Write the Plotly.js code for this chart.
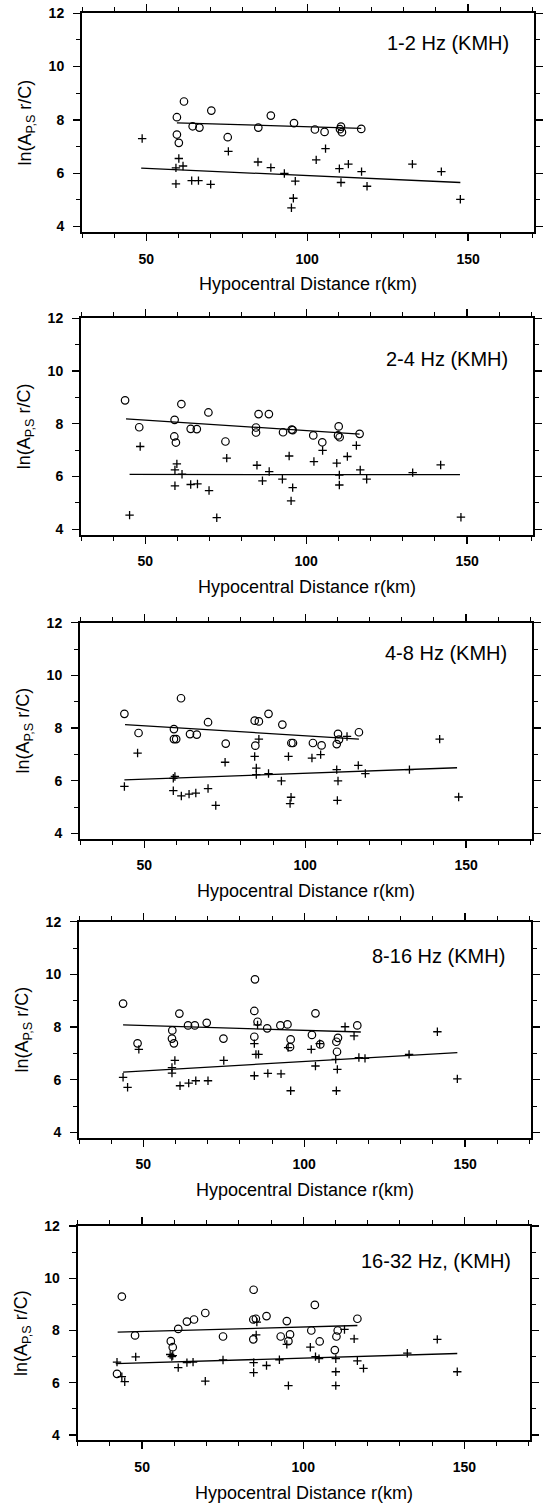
<!DOCTYPE html>
<html>
<head>
<meta charset="utf-8">
<script src="https://cdn.plot.ly/plotly-3.0.1.min.js"></script>
<style>
  html, body { margin: 0; padding: 0; background: #fff; }
  #chart { width: 550px; height: 1509px; }
</style>
</head>
<body>
<div id="chart"></div>
<script>
// ---------------- DATA ----------------
const panelLabels = ['1-2 Hz (KMH)', '2-4 Hz (KMH)', '4-8 Hz (KMH)', '8-16 Hz (KMH)', '16-32 Hz, (KMH)'];
const xTickVals = [50, 100, 150];
const xTickText = ['50', '100', '150'];
const xMinorVals = [30, 40, 60, 70, 80, 90, 110, 120, 130, 140, 160, 170];
const yTickVals = [4, 6, 8, 10, 12];
const yTickText = ['4', '6', '8', '10', '12'];
const yMinorVals = [5, 7, 9, 11];

// Panel 1: 1-2 Hz
const p1CircR = [59.5, 61.7, 59.5, 60.1, 64.4, 66.5, 70.2, 75.3, 84.8, 88.7, 95.9, 102.4, 105.4, 110.5, 110.2, 110.8, 116.8];
const p1CircY = [8.10, 8.69, 7.45, 7.14, 7.76, 7.71, 8.35, 7.35, 7.71, 8.16, 7.88, 7.64, 7.55, 7.75, 7.65, 7.54, 7.66];
const p1PlusR = [48.7, 59.2, 59.2, 60.1, 61.4, 64.1, 66.2, 70.0, 75.5, 84.7, 88.7, 92.9, 96.3, 95.7, 95.1, 102.8, 105.7, 110.0, 110.5, 112.8, 116.9, 118.6, 132.7, 141.7, 147.6];
const p1PlusY = [7.30, 5.60, 6.20, 6.55, 6.27, 5.72, 5.72, 5.58, 6.82, 6.42, 6.21, 5.99, 5.70, 5.06, 4.70, 6.50, 6.92, 6.17, 5.65, 6.34, 6.06, 5.51, 6.34, 6.06, 5.02];
const p1FitCircR = [59.5, 116.8];
const p1FitCircY = [7.89, 7.68];
const p1FitPlusR = [48.4, 147.6];
const p1FitPlusY = [6.19, 5.65];

// Panel 2: 2-4 Hz
const p2CircR = [43.7, 48.1, 61.2, 59.1, 59.0, 59.5, 64.1, 66.0, 69.6, 74.9, 84.4, 84.4, 85.2, 88.4, 92.8, 95.5, 95.8, 102.2, 105.0, 110.1, 109.9, 110.4, 116.6];
const p2CircY = [8.89, 7.87, 8.75, 8.15, 7.52, 7.29, 7.81, 7.80, 8.43, 7.33, 7.86, 7.67, 8.37, 8.37, 7.68, 7.78, 7.76, 7.56, 7.30, 7.90, 7.56, 7.49, 7.62];
const p2PlusR = [45.1, 48.4, 59.2, 59.8, 59.2, 61.4, 64.1, 66.2, 69.8, 72.2, 75.3, 84.7, 86.4, 88.5, 92.6, 94.7, 95.8, 95.3, 102.4, 105.1, 109.5, 110.3, 110.3, 112.8, 115.6, 116.8, 118.8, 133.1, 141.8, 148.1];
const p2PlusY = [4.54, 7.14, 6.25, 6.48, 5.65, 6.09, 5.70, 5.72, 5.47, 4.44, 6.70, 6.43, 5.84, 6.19, 5.90, 6.78, 5.58, 5.08, 6.57, 6.99, 6.51, 5.68, 6.06, 6.76, 7.18, 6.25, 5.90, 6.15, 6.44, 4.46];
const p2FitCircR = [44.0, 116.6];
const p2FitCircY = [8.19, 7.61];
const p2FitPlusR = [45.1, 147.8];
const p2FitPlusY = [6.08, 6.07];

// Panel 3: 4-8 Hz
const p3CircR = [43.8, 48.2, 61.4, 59.2, 59.2, 59.9, 64.2, 66.3, 69.8, 75.3, 84.3, 85.6, 84.5, 88.6, 92.9, 95.7, 96.2, 102.4, 105.1, 110.2, 109.8, 110.5, 116.7];
const p3CircY = [8.54, 7.81, 9.13, 7.96, 7.58, 7.58, 7.77, 7.75, 8.22, 7.41, 8.28, 8.25, 7.33, 8.54, 8.13, 7.43, 7.43, 7.43, 7.34, 7.78, 7.39, 7.56, 7.84];
const p3PlusR = [43.8, 47.9, 59.0, 59.5, 59.0, 61.5, 63.9, 66.0, 69.8, 72.2, 75.1, 84.3, 84.8, 84.8, 85.6, 88.6, 92.6, 94.8, 95.6, 95.3, 102.1, 104.8, 109.8, 110.2, 110.0, 113.0, 116.5, 118.7, 132.4, 141.8, 147.7];
const p3PlusY = [5.78, 7.05, 6.09, 6.16, 5.62, 5.42, 5.49, 5.53, 5.70, 5.06, 6.70, 6.92, 6.48, 6.23, 7.58, 6.27, 5.99, 6.92, 5.37, 5.13, 6.86, 6.99, 6.42, 5.99, 5.25, 7.68, 6.58, 6.27, 6.42, 7.58, 5.38];
const p3FitCircR = [44.0, 116.7];
const p3FitCircY = [8.13, 7.58];
const p3FitPlusR = [43.8, 147.2];
const p3FitPlusY = [6.03, 6.49];

// Panel 4: 8-16 Hz
const p4CircR = [43.7, 48.2, 61.2, 59.0, 58.9, 59.5, 63.9, 66.0, 69.7, 74.9, 84.5, 84.7, 85.5, 84.5, 88.5, 92.6, 94.8, 95.8, 95.6, 102.4, 103.5, 105.0, 110.0, 110.5, 110.2, 116.5];
const p4CircY = [8.89, 7.38, 8.51, 7.87, 7.56, 7.38, 8.06, 8.06, 8.16, 7.56, 8.61, 9.81, 8.20, 7.63, 7.95, 8.06, 8.10, 7.53, 7.24, 7.70, 8.52, 7.34, 7.44, 7.59, 7.06, 8.06];
const p4PlusR = [43.7, 45.1, 48.6, 58.9, 58.9, 59.8, 61.4, 64.1, 66.3, 70.1, 75.0, 84.5, 84.5, 85.0, 85.8, 85.5, 88.7, 92.8, 95.0, 95.8, 102.2, 103.5, 104.8, 109.8, 110.3, 110.0, 112.7, 115.5, 117.0, 118.9, 132.6, 141.4, 147.6];
const p4PlusY = [6.09, 5.71, 7.15, 6.46, 6.25, 6.73, 5.77, 5.87, 5.96, 5.96, 6.73, 6.15, 7.37, 6.96, 6.96, 8.08, 6.24, 6.22, 7.22, 5.58, 7.15, 6.52, 7.37, 6.77, 6.39, 5.58, 8.01, 7.66, 6.84, 6.81, 6.96, 7.82, 6.03];
const p4FitCircR = [43.7, 117.6];
const p4FitCircY = [8.08, 7.81];
const p4FitPlusR = [43.7, 147.6];
const p4FitPlusY = [6.29, 7.03];

// Panel 5: 16-32 Hz
const p5CircR = [43.7, 42.2, 47.8, 61.2, 58.9, 59.5, 63.9, 66.1, 69.6, 75.1, 84.6, 84.5, 85.3, 84.5, 88.6, 93.0, 94.9, 95.9, 95.4, 102.5, 103.6, 105.1, 110.3, 110.7, 109.8, 116.8];
const p5CircY = [9.30, 6.34, 7.81, 8.06, 7.59, 7.36, 8.34, 8.42, 8.67, 7.77, 9.56, 8.42, 8.45, 7.66, 8.55, 7.77, 8.36, 7.85, 7.59, 8.00, 8.98, 7.58, 7.77, 8.00, 7.25, 8.45];
const p5PlusR = [42.2, 43.7, 44.6, 48.0, 58.7, 59.2, 59.5, 61.2, 63.9, 65.8, 69.6, 75.1, 84.6, 84.6, 85.4, 85.6, 88.6, 92.6, 94.9, 95.4, 102.2, 103.8, 104.9, 110.1, 110.1, 110.1, 112.8, 115.8, 116.8, 118.7, 132.3, 141.6, 147.8];
const p5PlusY = [6.79, 6.23, 6.04, 6.99, 7.08, 7.00, 7.04, 6.58, 6.77, 6.79, 6.06, 6.87, 6.77, 6.39, 7.83, 8.32, 6.66, 6.88, 7.47, 5.89, 7.36, 7.00, 6.92, 6.92, 6.42, 5.89, 8.04, 7.68, 6.84, 6.55, 7.13, 7.66, 6.42];
const p5FitCircR = [42.4, 116.8];
const p5FitCircY = [7.94, 8.19];
const p5FitPlusR = [41.8, 147.8];
const p5FitPlusY = [6.73, 7.12];

// ---------------- LAYOUT HELPERS ----------------
const W = 550, H = 1509;
const FONT = '"Liberation Sans", Arial, Helvetica, sans-serif';
// pixel frame of each panel: [left, right, top(y=12), bottom(y=3.8)]
const frames = [
  [82, 534, 13.3, 231.8],
  [81, 533, 318.3, 534.6],
  [80, 532, 622.7, 838.6],
  [79, 531, 921.7, 1137.6],
  [77.7, 530.4, 1226, 1440.2]
];
const labelPos = [[163.5, 10.88], [163.3, 10.47], [163.3, 10.86], [163, 10.7], [165, 10.67]];

const sets = [
  [p1CircR, p1CircY, p1PlusR, p1PlusY, p1FitCircR, p1FitCircY, p1FitPlusR, p1FitPlusY],
  [p2CircR, p2CircY, p2PlusR, p2PlusY, p2FitCircR, p2FitCircY, p2FitPlusR, p2FitPlusY],
  [p3CircR, p3CircY, p3PlusR, p3PlusY, p3FitCircR, p3FitCircY, p3FitPlusR, p3FitPlusY],
  [p4CircR, p4CircY, p4PlusR, p4PlusY, p4FitCircR, p4FitCircY, p4FitPlusR, p4FitPlusY],
  [p5CircR, p5CircY, p5PlusR, p5PlusY, p5FitCircR, p5FitCircY, p5FitPlusR, p5FitPlusY]
];

const bold = a => a.map(t => '<b>' + t + '</b>');

const traces = [];
const layout = {
  width: W, height: H,
  margin: {l: 0, r: 0, t: 0, b: 0},
  paper_bgcolor: '#fff', plot_bgcolor: '#fff',
  showlegend: false,
  font: {family: FONT, color: '#000'},
  annotations: []
};

sets.forEach((s, i) => {
  const n = i === 0 ? '' : String(i + 1);
  const xa = 'x' + n, ya = 'y' + n;
  const [cr, cy, pr, py, fcr, fcy, fpr, fpy] = s;
  traces.push({x: cr, y: cy, xaxis: xa, yaxis: ya, type: 'scatter', mode: 'markers',
    marker: {symbol: 'circle-open', size: 7.5, color: '#000', line: {width: 1.2, color: '#000'}}, hoverinfo: 'x+y'});
  traces.push({x: pr, y: py, xaxis: xa, yaxis: ya, type: 'scatter', mode: 'markers',
    marker: {symbol: 'cross-thin-open', size: 6, color: '#000', line: {width: 1.3, color: '#000'}}, hoverinfo: 'x+y'});
  traces.push({x: fcr, y: fcy, xaxis: xa, yaxis: ya, type: 'scatter', mode: 'lines',
    line: {color: '#000', width: 1.3}, hoverinfo: 'skip'});
  traces.push({x: fpr, y: fpy, xaxis: xa, yaxis: ya, type: 'scatter', mode: 'lines',
    line: {color: '#000', width: 1.3}, hoverinfo: 'skip'});

  const f = frames[i];
  layout['xaxis' + n] = {
    domain: [f[0] / W, f[1] / W],
    anchor: ya,
    range: [30, 170.5],
    tickmode: 'array', tickvals: xTickVals, ticktext: bold(xTickText),
    ticks: 'outside', ticklen: 7, tickwidth: 1.3, tickcolor: '#000',
    minor: {tickmode: 'array', tickvals: xMinorVals, ticks: 'outside', ticklen: 4, tickwidth: 1, tickcolor: '#000', showgrid: false},
    showline: true, linewidth: 2, linecolor: '#000', mirror: 'allticks',
    showgrid: false, zeroline: false,
    ticklabelstandoff: 6,
    tickfont: {family: FONT, size: 14, color: '#000'},
    title: {text: 'Hypocentral Distance r(km)', font: {family: FONT, size: 18, color: '#000'}, standoff: 12},
    fixedrange: true
  };
  layout['yaxis' + n] = {
    domain: [1 - f[3] / H, 1 - f[2] / H],
    anchor: xa,
    range: [3.8, 12],
    tickmode: 'array', tickvals: yTickVals, ticktext: bold(yTickText),
    ticks: 'outside', ticklen: 7, tickwidth: 1.3, tickcolor: '#000',
    minor: {tickmode: 'array', tickvals: yMinorVals, ticks: 'outside', ticklen: 4, tickwidth: 1, tickcolor: '#000', showgrid: false},
    showline: true, linewidth: 2, linecolor: '#000', mirror: 'allticks',
    showgrid: false, zeroline: false,
    ticklabelstandoff: 6,
    tickfont: {family: FONT, size: 14, color: '#000'},
    title: {text: 'ln(A<sub>P,S</sub> r/C)', font: {family: FONT, size: 18, color: '#000'}, standoff: 12},
    fixedrange: true
  };
  layout.annotations.push({
    text: panelLabels[i], xref: xa, yref: ya, x: labelPos[i][0], y: labelPos[i][1],
    xanchor: 'right', yanchor: 'middle', showarrow: false,
    font: {family: FONT, size: 20, color: '#000'}
  });
});

Plotly.newPlot('chart', traces, layout, {staticPlot: true, displayModeBar: false});
</script>
</body>
</html>
